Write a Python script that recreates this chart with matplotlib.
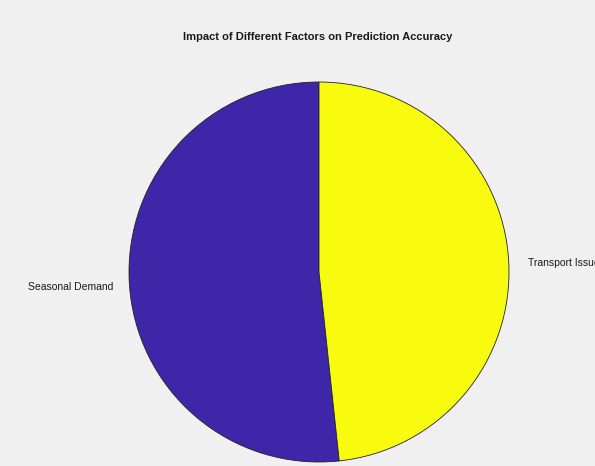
import matplotlib
matplotlib.use("Agg")
import matplotlib.pyplot as plt

categories = ["Seasonal Demand", "Transport Issues"]
values = [0.517, 0.483]
colors = ["#3E26A8", "#F9FB0E"]

W, H = 595, 466
fig = plt.figure(figsize=(W / 100, H / 100), dpi=100, facecolor="#F0F0F0")
ax = fig.add_axes([0, 0, 1, 1])
ax.set_facecolor("#F0F0F0")

wedges, texts = ax.pie(values, labels=categories, colors=colors, startangle=90,
                       counterclock=True, labeldistance=1.1,
                       wedgeprops=dict(edgecolor="#222222", linewidth=0.6),
                       textprops=dict(fontsize=7.5, family="Liberation Sans", color="#1a1a1a"))

r = 190.0
cx, cy = 319.0, 272.0
# small nudges of label positions (in data units) to match the reference layout
nudges = [(0.015, -0.02), (0.0, -0.01)]
for t, (dx, dy) in zip(texts, nudges):
    t.set_clip_on(False)
    x, y = t.get_position()
    t.set_position((x + dx, y + dy))

ax.set_aspect("auto")
ax.set_xlim(-cx / r, (W - cx) / r)
ax.set_ylim(-(H - cy) / r, cy / r)
ax.axis("off")

fig.text(318 / W, 1 - 37 / H, "Impact of Different Factors on Prediction Accuracy",
         ha="center", va="center", fontsize=8, fontweight="bold",
         family="Liberation Sans", color="#1a1a1a")

fig.savefig("out.png", dpi=100, facecolor=fig.get_facecolor())
